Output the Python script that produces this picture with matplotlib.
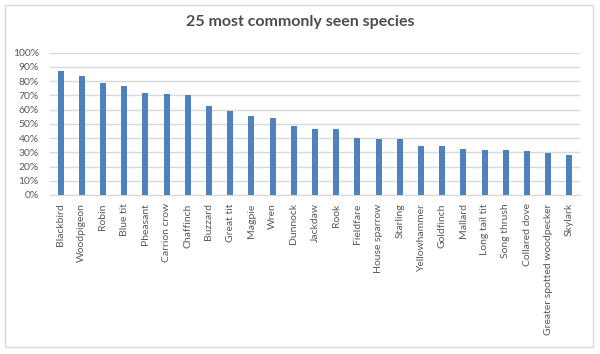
import matplotlib
matplotlib.use("Agg")
import matplotlib.pyplot as plt
from matplotlib.patches import Rectangle
from matplotlib.ticker import MultipleLocator, PercentFormatter

species = ["Blackbird", "Woodpigeon", "Robin", "Blue tit", "Pheasant", "Carrion crow",
           "Chaffinch", "Buzzard", "Great tit", "Magpie", "Wren", "Dunnock", "Jackdaw",
           "Rook", "Fieldfare", "House sparrow", "Starling", "Yellowhammer", "Goldfinch",
           "Mallard", "Long tail tit", "Song thrush", "Collared dove",
           "Greater spotted woodpecker", "Skylark"]
values = [87.3, 83.4, 78.5, 76.4, 71.7, 71.0, 70.3, 62.5, 59.0, 55.7, 54.3, 48.7, 46.2,
          46.2, 39.8, 39.4, 39.4, 34.4, 34.4, 32.3, 31.6, 31.6, 30.9, 29.5, 28.1]

W, H = 600, 354
fig = plt.figure(figsize=(W / 100, H / 100), dpi=100)
plt.rcParams['font.family'] = ['Lato', 'DejaVu Sans']

# chart border
fig.patches.append(Rectangle((5 / W, 1 - 347 / H), 588 / W, 342 / H, transform=fig.transFigure,
                             fill=False, edgecolor="#D9D9D9", linewidth=1))

left, right, top, bottom = 50, 580, 52.7, 195
ax = fig.add_axes([left / W, 1 - bottom / H, (right - left) / W, (bottom - top) / H])
x = range(len(species))
ax.bar(x, values, width=0.29, color="#4F81BD", zorder=3)
ax.set_xlim(-0.5, len(species) - 0.5)
ax.set_ylim(0, 100)
ax.yaxis.set_major_locator(MultipleLocator(10))
ax.yaxis.set_major_formatter(PercentFormatter(decimals=0))
ax.grid(axis="y", color="#D9D9D9", linewidth=1, zorder=0)
for s in ["top", "right", "left"]:
    ax.spines[s].set_visible(False)
ax.spines["bottom"].set_color("#D9D9D9")
ax.set_xticks(list(x))
ax.set_xticklabels(species, rotation=90, fontsize=7.5, color="#595959")
ax.tick_params(axis="both", length=0, labelsize=7.5, colors="#595959")
ax.tick_params(axis="x", pad=6)
ax.tick_params(axis="y", pad=8)

fig.text(0.5, 1 - 22 / H, "25 most commonly seen species", ha="center", va="center",
         fontsize=11.5, fontweight="bold", color="#4D4D4D")

fig.savefig("out.png", dpi=100)
